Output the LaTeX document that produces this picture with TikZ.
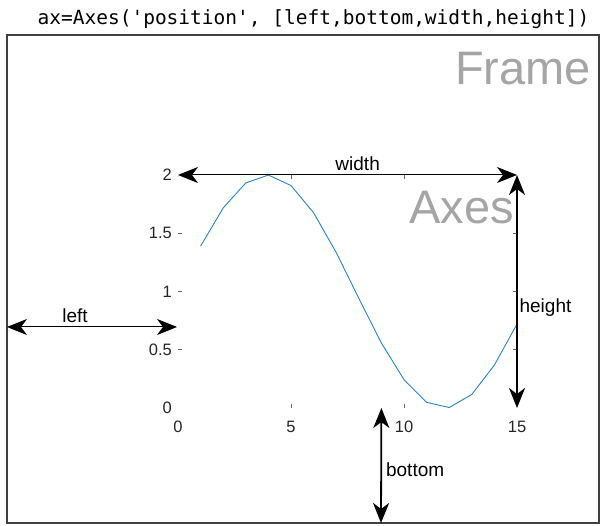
\documentclass[tikz,border=0pt]{standalone}
\usepackage{fontspec}
\setmainfont{Liberation Sans}
\setmonofont{DejaVu Sans Mono}
\usetikzlibrary{arrows.meta}
\definecolor{curveblue}{RGB}{40,130,200}
\definecolor{wordgray}{RGB}{165,165,165}
\tikzset{
  dimline/.style={line width=1pt,
    {Stealth[length=20pt,width=16pt,inset=6pt]}-{Stealth[length=20pt,width=16pt,inset=6pt]}},
  dimlabel/.style={font=\fontsize{19}{19}\selectfont, inner sep=4pt},
  ticklabel/.style={font=\fontsize{16.5}{16.5}\selectfont, text=black!85},
  ylab/.style={ticklabel, anchor=east, inner sep=0pt, xshift=-6pt},
  xlab/.style={ticklabel, anchor=center, inner sep=0pt, yshift=-19pt},
  bigword/.style={font=\fontsize{47}{47}\selectfont, text=wordgray, inner sep=0pt, anchor=base east},
  axtick/.style={black!60, line width=0.6pt}
}
\begin{document}
\begin{tikzpicture}[x=1pt,y=1pt]
\useasboundingbox (0,0) rectangle (602,526);
\node[font=\ttfamily\fontsize{19.5}{19.5}\selectfont, anchor=base, inner sep=0pt] (call) at (313.5,501) {ax=Axes('position', [left,bottom,width,height])};
\coordinate (frameSW) at (7,3);
\coordinate (frameNE) at (599,491);
\draw[black!75, line width=1.2pt] (frameSW) rectangle (frameNE);
\node[bigword] (frameword) at (591,441) {Frame};
\node[bigword] (axesword) at (514,302) {Axes};
\coordinate (leftstart) at (7,199);
\coordinate (leftend) at (177,199);
\coordinate (bottomend) at (381,3);
\begin{scope}[shift={(178pt,118pt)}, x=22.6pt, y=116.5pt]
\coordinate (origin) at (0,0);
\coordinate (ytop) at (0,2);
\coordinate (corner) at (15,2);
\coordinate (xend) at (15,0);
\coordinate (bottomstart) at (9,0);
\draw[curveblue, line width=0.9pt] plot[domain=1:15, samples=15] (\x,{1+sin(0.4*\x r)});
\draw[axtick] (0,0.5) -- ++(4pt,0) (0,1) -- ++(4pt,0) (0,1.5) -- ++(4pt,0);
\draw[axtick] (15,0.5) -- ++(-4pt,0) (15,1) -- ++(-4pt,0) (15,1.5) -- ++(-4pt,0);
\draw[axtick] (5,0) -- ++(0,4pt) (10,0) -- ++(0,4pt);
\draw[axtick] (5,2) -- ++(0,-4pt) (10,2) -- ++(0,-4pt);
\node[ylab] (y0) at (0,0) {0};
\node[ylab] (y05) at (0,0.5) {0.5};
\node[ylab] (y1) at (0,1) {1};
\node[ylab] (y15) at (0,1.5) {1.5};
\node[ylab] (y2) at (0,2) {2};
\node[xlab] (x0) at (0,0) {0};
\node[xlab] (x5) at (5,0) {5};
\node[xlab] (x10) at (10,0) {10};
\node[xlab] (x15) at (15,0) {15};
\end{scope}
\draw[dimline] (ytop) -- node[dimlabel, above, pos=0.53] (widthlabel) {width} (corner);
\draw[dimline, line width=2.2pt] (corner) -- node[dimlabel, right, pos=0.57, inner sep=1.5pt] (heightlabel) {height} (xend);
\draw[dimline] (leftstart) -- node[dimlabel, above, pos=0.4] (leftlabel) {left} (leftend);
\draw[dimline, line width=1.8pt] (bottomstart) -- node[dimlabel, right, pos=0.54] (bottomlabel) {bottom} (bottomend);
\end{tikzpicture}
\end{document}
